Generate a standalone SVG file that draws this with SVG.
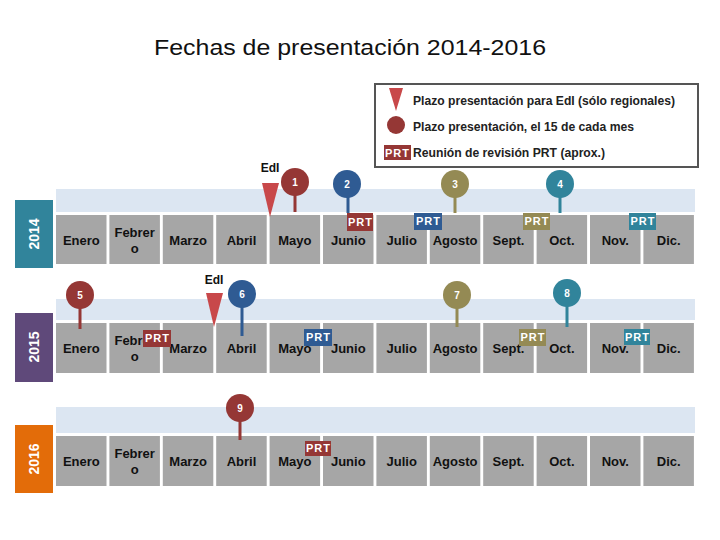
<svg xmlns="http://www.w3.org/2000/svg" width="720" height="540" viewBox="0 0 720 540">
<style>
.title{font-family:"Liberation Sans",Arial,sans-serif;font-size:22px;fill:#111}
.leg{font-family:"Liberation Sans",Arial,sans-serif;font-size:12px;font-weight:bold;fill:#222}
.band{fill:#DCE6F2}
.box{fill:#A6A6A6}
.mon{font-family:"Liberation Sans",Arial,sans-serif;font-size:13px;font-weight:bold;fill:#111;text-anchor:middle}
.yr{font-family:"Liberation Sans",Arial,sans-serif;font-size:14px;font-weight:bold;fill:#fff;text-anchor:middle}
.num{font-family:"Liberation Sans",Arial,sans-serif;font-size:10px;font-weight:bold;fill:#fff;text-anchor:middle}
.prt{font-family:"Liberation Sans",Arial,sans-serif;font-size:11px;font-weight:bold;fill:#fff;text-anchor:middle;letter-spacing:1px}
.edi{font-family:"Liberation Sans",Arial,sans-serif;font-size:12px;font-weight:bold;fill:#111;text-anchor:middle}
.red{fill:#953735}.blue{fill:#2F5B93}.olive{fill:#948A54}.teal{fill:#31849B}
.sred{stroke:#953735}.sblue{stroke:#2F5B93}.solive{stroke:#948A54}.steal{stroke:#31849B}
.stem{stroke-width:3}
.tri{fill:#C8484A}
</style>

<text class="title" x="350" y="55" text-anchor="middle" textLength="392" lengthAdjust="spacingAndGlyphs">Fechas de presentación 2014-2016</text>

<g id="legend">
<rect x="375" y="84" width="323" height="83" fill="#fff" stroke="#555" stroke-width="2"/>
<polygon class="tri" points="389,88 403,88 396,111"/>
<circle class="red" cx="396" cy="125" r="9"/>
<rect class="red" x="384" y="145" width="27" height="15"/>
<text class="prt" x="397.5" y="157">PRT</text>
<text class="leg" x="413" y="105" textLength="262" lengthAdjust="spacingAndGlyphs">Plazo presentación para EdI (sólo regionales)</text>
<text class="leg" x="413" y="131" textLength="221" lengthAdjust="spacingAndGlyphs">Plazo presentación, el 15 de cada mes</text>
<text class="leg" x="413" y="157" textLength="192" lengthAdjust="spacingAndGlyphs">Reunión de revisión PRT (aprox.)</text>
</g>

<g id="row2014">
<rect x="15" y="200" width="38" height="68" fill="#31849B"/>
<text class="yr" transform="translate(39,234) rotate(-90)">2014</text>
<rect class="band" x="56" y="189" width="639" height="23"/>
<rect class="box" x="56" y="215" width="50.5" height="49"/>
<rect class="box" x="109.4" y="215" width="50.5" height="49"/>
<rect class="box" x="162.8" y="215" width="50.5" height="49"/>
<rect class="box" x="216.2" y="215" width="50.5" height="49"/>
<rect class="box" x="269.6" y="215" width="50.5" height="49"/>
<rect class="box" x="323" y="215" width="50.5" height="49"/>
<rect class="box" x="376.4" y="215" width="50.5" height="49"/>
<rect class="box" x="429.8" y="215" width="50.5" height="49"/>
<rect class="box" x="483.2" y="215" width="50.5" height="49"/>
<rect class="box" x="536.6" y="215" width="50.5" height="49"/>
<rect class="box" x="590" y="215" width="50.5" height="49"/>
<rect class="box" x="643.4" y="215" width="50.5" height="49"/>
<text class="mon" x="81.3" y="245">Enero</text>
<text class="mon" x="134.7" y="237">Febrer</text>
<text class="mon" x="134.7" y="253">o</text>
<text class="mon" x="188.1" y="245">Marzo</text>
<text class="mon" x="241.5" y="245">Abril</text>
<text class="mon" x="294.9" y="245">Mayo</text>
<text class="mon" x="348.3" y="245">Junio</text>
<text class="mon" x="401.7" y="245">Julio</text>
<text class="mon" x="455.1" y="245">Agosto</text>
<text class="mon" x="508.5" y="245">Sept.</text>
<text class="mon" x="561.9" y="245">Oct.</text>
<text class="mon" x="615.3" y="245">Nov.</text>
<text class="mon" x="668.7" y="245">Dic.</text>
</g>

<g id="row2015">
<rect x="15" y="313" width="38" height="69" fill="#5F497A"/>
<text class="yr" transform="translate(39,347) rotate(-90)">2015</text>
<rect class="band" x="56" y="299" width="639" height="21"/>
<rect class="box" x="56" y="323" width="50.5" height="50"/>
<rect class="box" x="109.4" y="323" width="50.5" height="50"/>
<rect class="box" x="162.8" y="323" width="50.5" height="50"/>
<rect class="box" x="216.2" y="323" width="50.5" height="50"/>
<rect class="box" x="269.6" y="323" width="50.5" height="50"/>
<rect class="box" x="323" y="323" width="50.5" height="50"/>
<rect class="box" x="376.4" y="323" width="50.5" height="50"/>
<rect class="box" x="429.8" y="323" width="50.5" height="50"/>
<rect class="box" x="483.2" y="323" width="50.5" height="50"/>
<rect class="box" x="536.6" y="323" width="50.5" height="50"/>
<rect class="box" x="590" y="323" width="50.5" height="50"/>
<rect class="box" x="643.4" y="323" width="50.5" height="50"/>
<text class="mon" x="81.3" y="353">Enero</text>
<text class="mon" x="134.7" y="345">Febrer</text>
<text class="mon" x="134.7" y="361">o</text>
<text class="mon" x="188.1" y="353">Marzo</text>
<text class="mon" x="241.5" y="353">Abril</text>
<text class="mon" x="294.9" y="353">Mayo</text>
<text class="mon" x="348.3" y="353">Junio</text>
<text class="mon" x="401.7" y="353">Julio</text>
<text class="mon" x="455.1" y="353">Agosto</text>
<text class="mon" x="508.5" y="353">Sept.</text>
<text class="mon" x="561.9" y="353">Oct.</text>
<text class="mon" x="615.3" y="353">Nov.</text>
<text class="mon" x="668.7" y="353">Dic.</text>
</g>

<g id="row2016">
<rect x="15" y="425" width="38" height="68" fill="#E36C09"/>
<text class="yr" transform="translate(39,459) rotate(-90)">2016</text>
<rect class="band" x="56" y="407" width="639" height="26"/>
<rect class="box" x="56" y="436" width="50.5" height="50"/>
<rect class="box" x="109.4" y="436" width="50.5" height="50"/>
<rect class="box" x="162.8" y="436" width="50.5" height="50"/>
<rect class="box" x="216.2" y="436" width="50.5" height="50"/>
<rect class="box" x="269.6" y="436" width="50.5" height="50"/>
<rect class="box" x="323" y="436" width="50.5" height="50"/>
<rect class="box" x="376.4" y="436" width="50.5" height="50"/>
<rect class="box" x="429.8" y="436" width="50.5" height="50"/>
<rect class="box" x="483.2" y="436" width="50.5" height="50"/>
<rect class="box" x="536.6" y="436" width="50.5" height="50"/>
<rect class="box" x="590" y="436" width="50.5" height="50"/>
<rect class="box" x="643.4" y="436" width="50.5" height="50"/>
<text class="mon" x="81.3" y="466">Enero</text>
<text class="mon" x="134.7" y="458">Febrer</text>
<text class="mon" x="134.7" y="474">o</text>
<text class="mon" x="188.1" y="466">Marzo</text>
<text class="mon" x="241.5" y="466">Abril</text>
<text class="mon" x="294.9" y="466">Mayo</text>
<text class="mon" x="348.3" y="466">Junio</text>
<text class="mon" x="401.7" y="466">Julio</text>
<text class="mon" x="455.1" y="466">Agosto</text>
<text class="mon" x="508.5" y="466">Sept.</text>
<text class="mon" x="561.9" y="466">Oct.</text>
<text class="mon" x="615.3" y="466">Nov.</text>
<text class="mon" x="668.7" y="466">Dic.</text>
</g>

<g id="connectors">
<line class="stem sred" x1="295" y1="190" x2="295" y2="212"/>
<line class="stem sblue" x1="348" y1="190" x2="348" y2="213"/>
<line class="stem solive" x1="455" y1="190" x2="455" y2="213"/>
<line class="stem steal" x1="560" y1="190" x2="560" y2="213"/>
<line class="stem sred" x1="80" y1="300" x2="80" y2="329"/>
<line class="stem sblue" x1="242" y1="300" x2="242" y2="336"/>
<line class="stem solive" x1="457" y1="300" x2="457" y2="327"/>
<line class="stem steal" x1="567" y1="300" x2="567" y2="327"/>
<line class="stem sred" x1="240" y1="414" x2="240" y2="440"/>
</g>

<g id="pin1"><circle class="red" cx="295" cy="182" r="14"/><text class="num" x="295" y="186">1</text></g>
<g id="pin2"><circle class="blue" cx="347" cy="184" r="14"/><text class="num" x="347" y="188">2</text></g>
<g id="pin3"><circle class="olive" cx="455" cy="184" r="14"/><text class="num" x="455" y="188">3</text></g>
<g id="pin4"><circle class="teal" cx="560" cy="184" r="14"/><text class="num" x="560" y="188">4</text></g>
<g id="pin5"><circle class="red" cx="80" cy="295" r="14"/><text class="num" x="80" y="299">5</text></g>
<g id="pin6"><circle class="blue" cx="242" cy="294" r="14"/><text class="num" x="242" y="298">6</text></g>
<g id="pin7"><circle class="olive" cx="457" cy="295" r="14"/><text class="num" x="457" y="299">7</text></g>
<g id="pin8"><circle class="teal" cx="567" cy="293" r="14"/><text class="num" x="567" y="297">8</text></g>
<g id="pin9"><circle class="red" cx="240" cy="408" r="14"/><text class="num" x="240" y="412">9</text></g>

<g id="edi2014"><polygon class="tri" points="262,183 279,183 270,217"/><text class="edi" x="270" y="172">EdI</text></g>
<g id="edi2015"><polygon class="tri" points="206,293 223,293 214,327"/><text class="edi" x="214" y="284">EdI</text></g>

<g id="prt1"><rect class="red" x="347" y="213" width="26" height="18"/><text class="prt" x="360.5" y="226">PRT</text></g>
<g id="prt2"><rect class="blue" x="414" y="213" width="28" height="17"/><text class="prt" x="428.5" y="225">PRT</text></g>
<g id="prt3"><rect class="olive" x="523" y="213" width="27" height="17"/><text class="prt" x="537" y="225">PRT</text></g>
<g id="prt4"><rect class="teal" x="629" y="213" width="27" height="17"/><text class="prt" x="643" y="225">PRT</text></g>
<g id="prt5"><rect class="red" x="143" y="330" width="28" height="17"/><text class="prt" x="157.5" y="342">PRT</text></g>
<g id="prt6"><rect class="blue" x="304" y="329" width="28" height="17"/><text class="prt" x="318.5" y="341">PRT</text></g>
<g id="prt7"><rect class="olive" x="519" y="329" width="27" height="17"/><text class="prt" x="533" y="341">PRT</text></g>
<g id="prt8"><rect class="teal" x="624" y="329" width="26" height="16"/><text class="prt" x="637.5" y="341">PRT</text></g>
<g id="prt9"><rect class="red" x="305" y="441" width="26" height="15"/><text class="prt" x="318.5" y="452">PRT</text></g>
</svg>
